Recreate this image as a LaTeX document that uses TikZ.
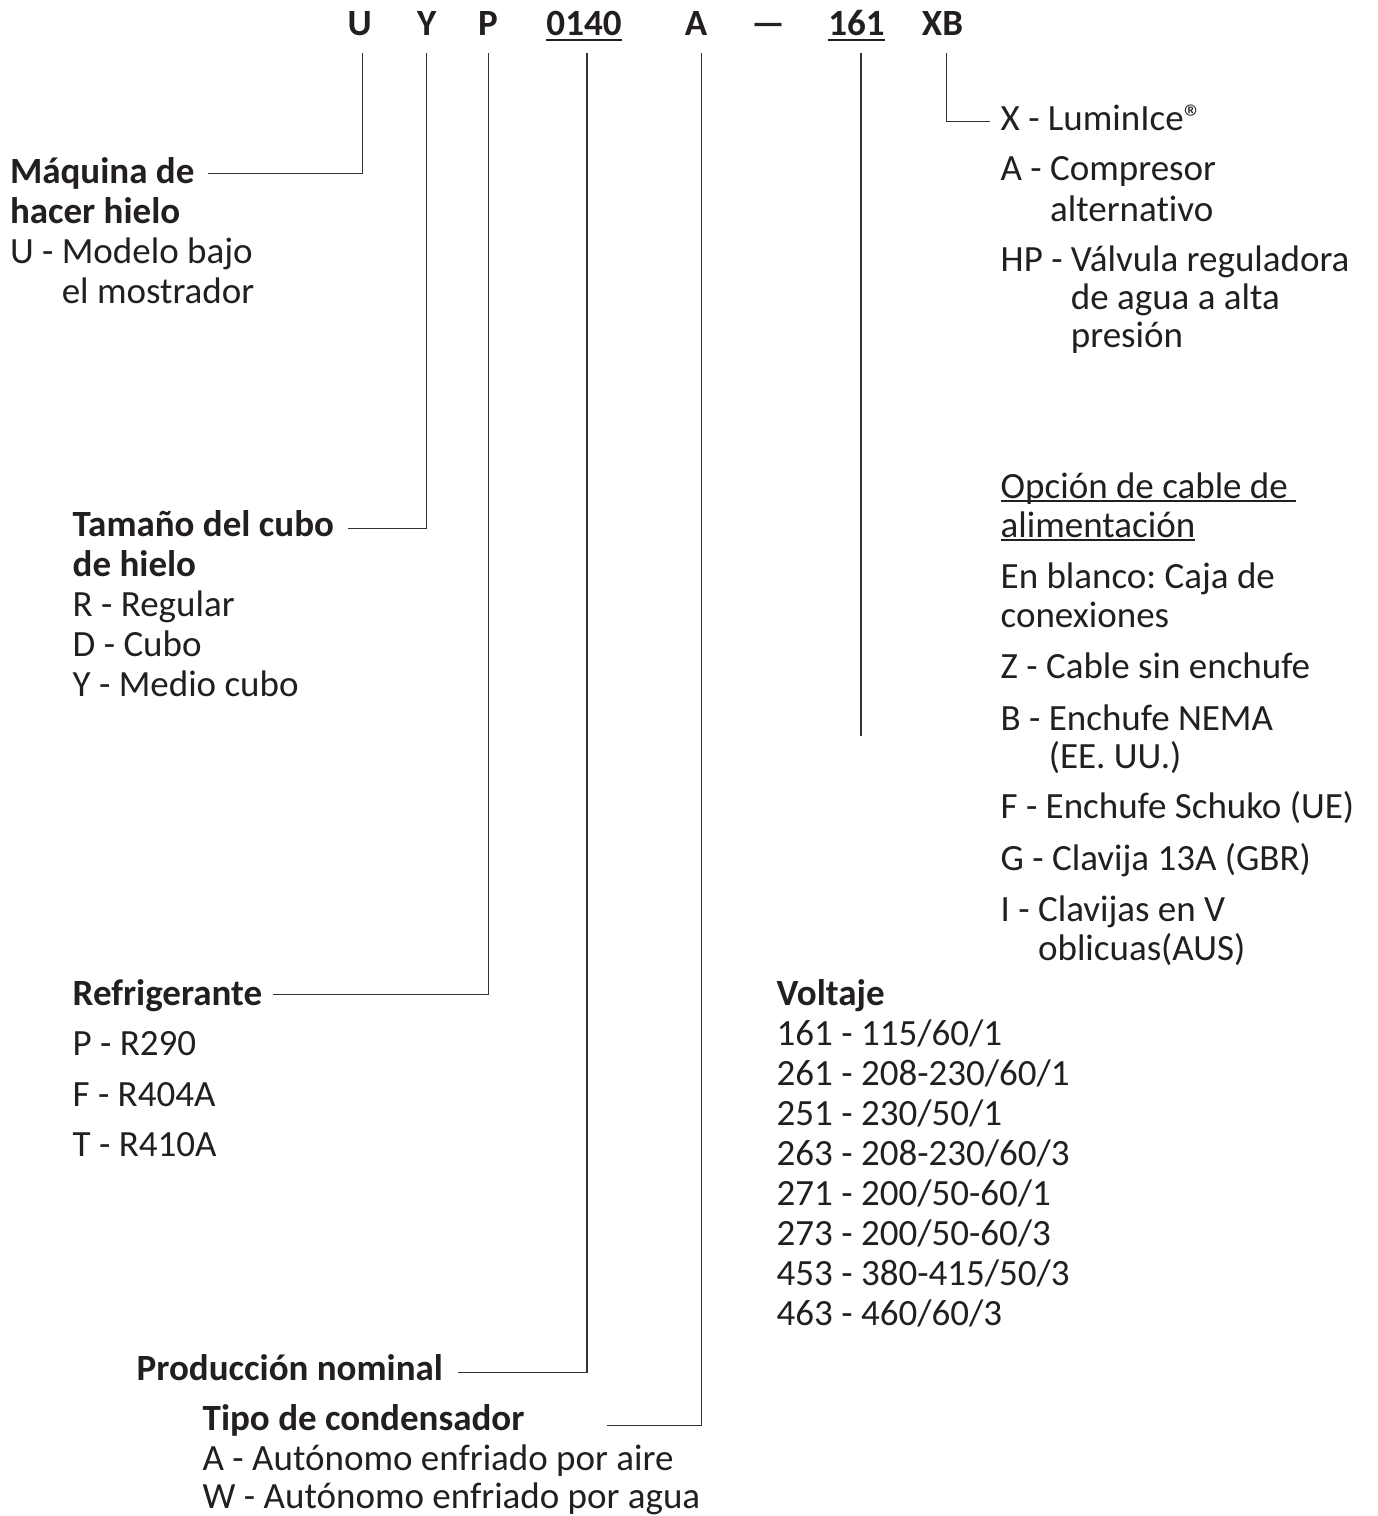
\documentclass[tikz,border=0pt]{standalone}
\usepackage{fontspec}
\setmainfont{Carlito}[Ligatures={NoCommon}]
\frenchspacing
\definecolor{ink}{RGB}{35,31,32}
\newcommand\hdul[1]{\setbox0\hbox{#1}\rlap{\rule[-6pt]{\wd0}{2pt}}\box0}
\newcommand\bdul[1]{\setbox0\hbox{#1}\rlap{\rule[-3.8pt]{\wd0}{1.4pt}}\box0}
\newcommand\itm[3][39pt]{\vtop{\baselineskip=#1\lineskiplimit=-100pt\lineskip=0pt\halign{##\hfil\ &##\hfil\cr#2&#3\crcr}}}
\newcommand\stk[2][39pt]{\vtop{\baselineskip=#1\lineskiplimit=-100pt\lineskip=0pt\halign{##\hfil\cr#2\crcr}}}
\tikzset{
  txt/.style={inner sep=0pt, outer sep=0pt, anchor=base west, text=ink, font=\fontsize{37}{40}\selectfont},
  btxt/.style={txt, font=\fontsize{37}{40}\selectfont\bfseries},
  hdr/.style={inner sep=0pt, outer sep=0pt, anchor=base, text=ink, font=\fontsize{37}{40}\selectfont\bfseries},
  conn/.style={draw=black!80, line width=1.2pt},
}
\begin{document}
\begin{tikzpicture}[x=1pt,y=-1pt]
\fill[white] (0,0) rectangle (1377,1516);
\useasboundingbox (0,0) rectangle (1377,1516);

% header code
\node[hdr] (hU) at (359.7,35) {U};
\node[hdr] (hY) at (426.7,35) {Y};
\node[hdr] (hP) at (488,35) {P};
\node[hdr] (h0140) at (584,35) {\hdul{0140}};
\node[hdr] (hA) at (696,35) {A};
\node[hdr] (hdash) at (768,35) {—};
\node[hdr] (h161) at (856.5,35) {\hdul{161}};
\node[hdr] (hXB) at (942.5,35) {XB};

% Maquina
\node[txt] (maq) at (10,183.3) {\itm[40pt]{\multispan2\bfseries Máquina de\hfil\cr\multispan2\bfseries hacer hielo\hfil\cr U -}{Modelo bajo\cr&el mostrador}};

% Tamano
\node[txt] (tam) at (72.7,536.7) {\stk[40pt]{\bfseries Tamaño del cubo\cr\bfseries de hielo\cr R - Regular\cr D - Cubo\cr Y - Medio cubo}};

% Refrigerante
\node[btxt] (ref) at (72.7,1005) {Refrigerante};
\node[txt] (refP) at (72.7,1055) {P - R290};
\node[txt] (refF) at (72.7,1106.7) {F - R404A};
\node[txt] (refT) at (72.7,1156.7) {T - R410A};

% Produccion
\node[btxt] (prod) at (136.7,1380) {Producción nominal};

% Tipo
\node[btxt] (tipo) at (202.7,1430.7) {Tipo de condensador};
\node[txt] (tipoA) at (202.7,1470) {A - Autónomo enfriado por aire};
\node[txt] (tipoW) at (202.7,1508.3) {W - Autónomo enfriado por agua};

% Voltaje
\node[txt] (volt) at (776.7,1005) {\stk[40pt]{\bfseries Voltaje\cr
161 - 115/60/1\cr 261 - 208-230/60/1\cr 251 - 230/50/1\cr 263 - 208-230/60/3\cr
271 - 200/50-60/1\cr 273 - 200/50-60/3\cr 453 - 380-415/50/3\cr 463 - 460/60/3}};

% right block
\node[txt] (oX) at (1000.7,130.7) {X - LuminIce®};
\node[txt] (oA) at (1000.7,180) {\itm[41pt]{A -}{Compresor\cr&alternativo}};
\node[txt] (oHP) at (1000.7,271.7) {\itm[38pt]{HP -}{Válvula reguladora\cr&de agua a alta\cr&presión}};
\node[txt] (cab) at (1000.7,498) {\stk[39pt]{\bdul{Opción de cable de\ }\cr\bdul{alimentación}}};
\node[txt] (cBl) at (1000.7,588) {\stk[39pt]{En blanco: Caja de\cr conexiones}};
\node[txt] (cZ) at (1000.7,678) {Z - Cable sin enchufe};
\node[txt] (cB) at (1000.7,730) {\itm[38pt]{B -}{Enchufe NEMA\cr&(EE. UU.)}};
\node[txt] (cF) at (1000.7,818) {F - Enchufe Schuko (UE)};
\node[txt] (cG) at (1000.7,870) {G - Clavija 13A (GBR)};
\node[txt] (cI) at (1000.7,921.7) {\itm[38.5pt]{I -}{Clavijas en V\cr&oblicuas(AUS)}};

% connector points
\coordinate (tU) at (362.7,53.3);   \coordinate (cU) at (208,173.3);
\coordinate (tY) at (426.3,53.3);   \coordinate (cY) at (348,528.3);
\coordinate (tP) at (488.7,53.3);   \coordinate (cP) at (273,994.3);
\coordinate (t0140) at (587,53.3);  \coordinate (c0140) at (458,1372.3);
\coordinate (tA) at (701.7,53.3);   \coordinate (cA) at (606.7,1425.5);
\coordinate (t161) at (861,53.3);   \coordinate (e161) at (861,735.7);
\coordinate (tXB) at (946.7,53.3);  \coordinate (cXB) at (990,121.7);

\draw[conn] (tU) |- (cU);
\draw[conn] (tY) |- (cY);
\draw[conn] (tP) |- (cP);
\draw[conn] (t0140) |- (c0140);
\draw[conn] (tA) |- (cA);
\draw[conn] (t161) -- (e161);
\draw[conn] (tXB) |- (cXB);
\end{tikzpicture}
\end{document}
